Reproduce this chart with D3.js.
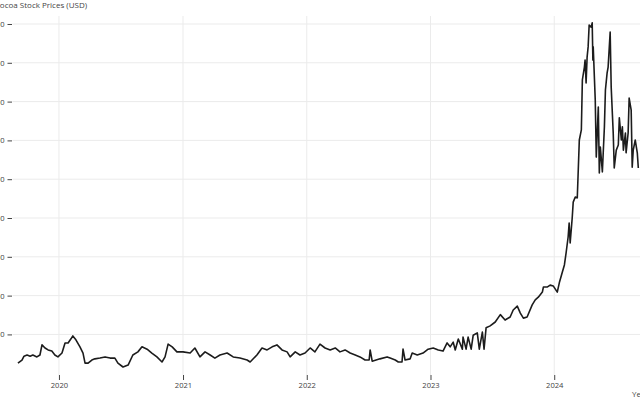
<!DOCTYPE html>
<html>
<head>
<meta charset="utf-8">
<script src="https://cdn.jsdelivr.net/npm/d3@7"></script>
<style>
  html, body { margin: 0; padding: 0; background: #fff; overflow: hidden; }
  svg { display: block; font-family: "Open Sans", "Noto Sans", sans-serif; }
</style>
</head>
<body>
<svg id="chart" width="640" height="400"></svg>
<script>
// ---- data ----
const dates = [
"2019-09-02","2019-09-14","2019-09-20","2019-09-29","2019-10-08","2019-10-16","2019-10-28","2019-11-06","2019-11-12","2019-11-21","2019-11-30","2019-12-11","2019-12-20","2019-12-29",
"2020-01-10","2020-01-19","2020-01-28","2020-02-05","2020-02-11","2020-02-20","2020-03-03","2020-03-12","2020-03-18","2020-03-27","2020-04-07","2020-04-16","2020-05-01","2020-05-16","2020-05-31","2020-06-14","2020-06-23","2020-07-08","2020-07-23","2020-08-06","2020-08-21","2020-09-02","2020-09-17","2020-10-01","2020-10-16","2020-10-31","2020-11-09","2020-11-18","2020-11-30","2020-12-14",
"2021-01-01","2021-01-22","2021-02-05","2021-02-20","2021-03-07","2021-03-22","2021-04-05","2021-04-20","2021-05-11","2021-05-29","2021-06-18","2021-07-09","2021-07-18","2021-08-07","2021-08-22","2021-09-06","2021-09-21","2021-10-05","2021-10-20","2021-11-04","2021-11-13","2021-11-28","2021-12-12","2021-12-27",
"2022-01-11","2022-01-25","2022-02-09","2022-02-24","2022-03-11","2022-03-26","2022-04-09","2022-04-24","2022-05-09","2022-05-24","2022-06-07","2022-06-22","2022-07-04","2022-07-07","2022-07-13","2022-08-05","2022-08-26","2022-09-04","2022-09-19","2022-09-28","2022-10-09","2022-10-12","2022-10-18","2022-11-02","2022-11-08","2022-11-23","2022-12-10","2022-12-25",
"2023-01-09","2023-01-24","2023-02-07","2023-02-19","2023-02-28","2023-03-09","2023-03-15","2023-03-24","2023-04-05","2023-04-07","2023-04-16","2023-04-22","2023-05-01","2023-05-07","2023-05-19","2023-05-25","2023-06-03","2023-06-08","2023-06-14","2023-06-26","2023-07-11","2023-07-26","2023-08-09","2023-08-24","2023-09-02","2023-09-14","2023-09-23","2023-10-02","2023-10-13","2023-10-28","2023-11-06","2023-11-15","2023-11-27","2023-11-30","2023-12-11","2023-12-20","2023-12-29",
"2024-01-10","2024-01-16","2024-01-25","2024-01-31","2024-02-05","2024-02-11","2024-02-14","2024-02-17","2024-02-23","2024-02-26","2024-03-03","2024-03-09","2024-03-15","2024-03-21","2024-03-24","2024-03-30","2024-04-01","2024-04-04","2024-04-07","2024-04-10","2024-04-13","2024-04-19","2024-04-22","2024-04-24","2024-04-25","2024-05-01","2024-05-04","2024-05-10","2024-05-13","2024-05-16","2024-05-22","2024-05-28","2024-05-31","2024-06-05","2024-06-08","2024-06-14","2024-06-17","2024-06-23","2024-06-26","2024-07-02","2024-07-08","2024-07-11","2024-07-17","2024-07-20","2024-07-23","2024-07-29","2024-07-31","2024-08-06","2024-08-09","2024-08-15","2024-08-18","2024-08-21","2024-08-27","2024-09-02","2024-09-05"
];
const prices = [
2260,2340,2440,2470,2440,2470,2420,2470,2730,2650,2600,2570,2470,2420,
2520,2780,2780,2880,2960,2860,2680,2520,2260,2260,2340,2370,2390,2420,2390,2390,2260,2160,2210,2470,2550,2680,2620,2520,2420,2290,2420,2750,2680,2550,
2550,2520,2650,2420,2550,2470,2390,2470,2520,2420,2390,2340,2290,2470,2650,2600,2680,2730,2600,2550,2420,2550,2470,2520,
2650,2550,2750,2650,2600,2650,2550,2600,2520,2470,2420,2340,2340,2600,2310,2370,2420,2390,2340,2290,2290,2620,2340,2370,2520,2470,2520,2620,
2650,2600,2570,2780,2680,2800,2600,2880,2620,2930,2620,2930,2620,2980,3040,2620,3060,2620,3170,3220,3320,3510,3370,3450,3630,3730,3550,3420,3450,3760,3890,3960,4090,4220,4220,4270,4250,
4090,4330,4610,4790,5100,5510,5870,5360,6000,6410,6540,6520,8010,8270,9560,9890,10070,9480,10150,10410,10970,10920,11030,10070,10410,9040,7570,8860,7160,7830,7190,8350,9300,9740,9890,10790,9380,8190,7290,7750,7880,8580,8010,8350,7750,8190,7680,8190,9090,8780,7310,7750,8010,7680,7290
];
const yTickValues = [3000,4000,5000,6000,7000,8000,9000,10000,11000];
const xTickYears = ["2020","2021","2022","2023","2024"];
const chartTitle = "Cocoa Stock Prices (USD)";
const xTitle = "Year";

// ---- layout ----
const W = 640, H = 400;
const plot = {left: 12.5, right: 640, top: 16, bottom: 375};
const parse = d3.utcParse("%Y-%m-%d");
const data = dates.map((d, i) => ({date: parse(d), price: prices[i]}));

const x = d3.scaleUtc()
  .domain([parse("2019-08-17"), parse("2024-09-10")])
  .range([plot.left, plot.right]);
const y = d3.scaleLinear()
  .domain([1954, 11206])
  .range([plot.bottom, plot.top]);

const svg = d3.select("#chart");
svg.append("rect").attr("width", W).attr("height", H).attr("fill", "#fff");

// gridlines
const grid = svg.append("g");
grid.selectAll("line.h").data(yTickValues).join("line")
  .attr("x1", plot.left).attr("x2", W + 20)
  .attr("y1", d => y(d)).attr("y2", d => y(d))
  .attr("stroke", "#ebebeb").attr("stroke-width", 1);
const yearDates = xTickYears.map(s => parse(s + "-01-01"));
grid.selectAll("line.v").data(yearDates).join("line")
  .attr("x1", d => x(d)).attr("x2", d => x(d))
  .attr("y1", plot.top).attr("y2", plot.bottom)
  .attr("stroke", "#ebebeb").attr("stroke-width", 1);

// y axis (ticks outside, labels right-aligned)
const yAxis = d3.axisLeft(y).tickValues(yTickValues).tickSize(4.5).tickPadding(3)
  .tickFormat(d3.format(","));
const gy = svg.append("g").attr("transform", `translate(${plot.left - 0.5},0)`).call(yAxis);
gy.select(".domain").remove();
gy.selectAll(".tick line").attr("stroke", "#444");
gy.selectAll(".tick text").attr("fill", "#444").style("font-size", "7.6px")
  .style("font-family", "'Open Sans', sans-serif");

// x axis
const xAxis = d3.axisBottom(x).tickValues(yearDates).tickSize(5).tickPadding(2.5)
  .tickFormat(d3.utcFormat("%Y"));
const gx = svg.append("g").attr("transform", `translate(0,${plot.bottom})`).call(xAxis);
gx.select(".domain").remove();
gx.selectAll(".tick line").attr("stroke", "#444");
gx.selectAll(".tick text").attr("fill", "#444").style("font-size", "7.6px")
  .style("font-family", "'Open Sans', sans-serif");

// line
svg.append("clipPath").attr("id", "clip").append("rect")
  .attr("x", plot.left).attr("y", plot.top)
  .attr("width", W + 20 - plot.left).attr("height", plot.bottom - plot.top);
const line = d3.line().x(d => x(d.date)).y(d => y(d.price));
svg.append("path").datum(data)
  .attr("clip-path", "url(#clip)")
  .attr("d", line)
  .attr("fill", "none")
  .attr("stroke", "#1c1c1c")
  .attr("stroke-width", 1.6)
  .attr("stroke-linejoin", "round");

// titles
svg.append("text").attr("x", -5.2).attr("y", 8.3)
  .attr("fill", "#444").style("font-size", "8px")
  .style("font-family", "'Open Sans', sans-serif")
  .text(chartTitle);
svg.append("text").attr("x", 632).attr("y", 396.5)
  .attr("fill", "#444").style("font-size", "8px")
  .style("font-family", "'Open Sans', sans-serif")
  .text(xTitle);
</script>
</body>
</html>
